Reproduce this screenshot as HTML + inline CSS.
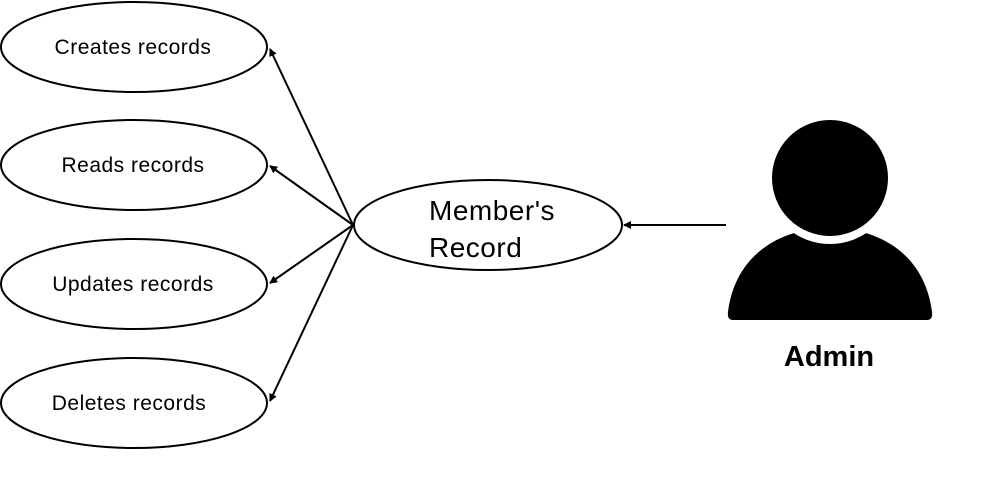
<!DOCTYPE html>
<html><head><style>body{margin:0;background:#fff}svg{display:block}</style></head><body>
<svg width="988" height="498" viewBox="0 0 988 498" xmlns="http://www.w3.org/2000/svg">
<defs><marker id="a" markerWidth="8" markerHeight="8" refX="7" refY="4" orient="auto" markerUnits="userSpaceOnUse"><path d="M0,0 L8,4 L0,8 Z" fill="#000"/></marker></defs>
<g fill="#fff" stroke="#000" stroke-width="2">
<ellipse cx="134" cy="47" rx="133" ry="45"/>
<ellipse cx="134" cy="165" rx="133" ry="45"/>
<ellipse cx="134" cy="284" rx="133" ry="45"/>
<ellipse cx="134" cy="403" rx="133" ry="45"/>
<ellipse cx="488" cy="225" rx="134" ry="45"/>
</g>
<g stroke="#000" stroke-width="2" marker-end="url(#a)">
<line x1="353" y1="225" x2="270" y2="49"/>
<line x1="353" y1="225" x2="270" y2="166"/>
<line x1="353" y1="225" x2="270" y2="283"/>
<line x1="353" y1="225" x2="270" y2="401"/>
<line x1="726" y1="225" x2="624" y2="225"/>
</g>
<g font-family="Liberation Sans, sans-serif" font-size="21" text-anchor="middle" fill="#000" letter-spacing="0.5">
<text x="133" y="54">Creates records</text>
<text x="133" y="172">Reads records</text>
<text x="133" y="291">Updates records</text>
<text x="129" y="410">Deletes records</text>
</g>
<g font-family="Liberation Sans, sans-serif" font-size="28" fill="#000" letter-spacing="0.5">
<text x="429" y="220">Member's</text>
<text x="429" y="257">Record</text>
</g>
<path d="M733,320 Q727,320 728,312 C735,255 780,228 830,228 C880,228 925,255 932,312 Q933,320 927,320 Z" fill="#000"/>
<circle cx="830" cy="178" r="62" fill="#000" stroke="#fff" stroke-width="8"/>
<text x="829" y="366" font-family="Liberation Sans, sans-serif" font-size="29" font-weight="bold" text-anchor="middle">Admin</text>
</svg>
</body></html>
